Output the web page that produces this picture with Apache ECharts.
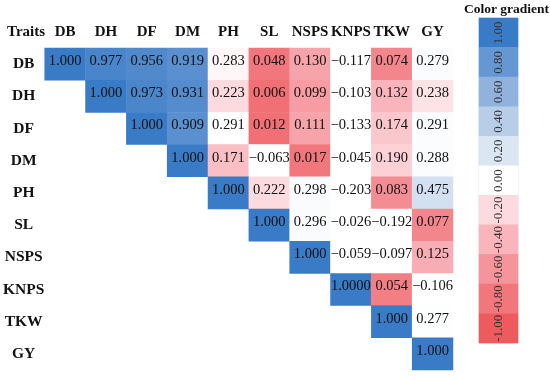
<!DOCTYPE html>
<html><head><meta charset="utf-8">
<script src="https://cdn.jsdelivr.net/npm/echarts@6/dist/echarts.min.js"></script>
<style>html,body{margin:0;padding:0;background:#fff}#c{width:550px;height:377px}</style>
</head><body><div id="c"></div>
<script>
var traits = ['DB','DH','DF','DM','PH','SL','NSPS','KNPS','TKW','GY'];
// displayed coefficients (upper triangle, row by row, starting at diagonal)
var rowDB   = ['1.000','0.977','0.956','0.919','0.283','0.048','0.130','\u22120.117','0.074','0.279'];
var rowDH   = ['1.000','0.973','0.931','0.223','0.006','0.099','\u22120.103','0.132','0.238'];
var rowDF   = ['1.000','0.909','0.291','0.012','0.111','\u22120.133','0.174','0.291'];
var rowDM   = ['1.000','0.171','\u22120.063','0.017','\u22120.045','0.190','0.288'];
var rowPH   = ['1.000','0.222','0.298','\u22120.203','0.083','0.475'];
var rowSL   = ['1.000','0.296','\u22120.026','\u22120.192','0.077'];
var rowNSPS = ['1.000','\u22120.059','\u22120.097','0.125'];
var rowKNPS = ['1.0000','0.054','\u22120.106'];
var rowTKW  = ['1.000','0.277'];
var rowGY   = ['1.000'];
// cell shading, on the colour-gradient scale (-1..1)
var shadeDB   = [1.00,0.93,0.90,0.85,-0.05,-0.80,-0.50,0.00,-0.70,0.02];
var shadeDH   = [1.00,0.92,0.88,-0.20,-0.85,-0.55,0.00,-0.40,-0.15];
var shadeDF   = [1.00,0.85,0.00,-0.85,-0.50,0.00,-0.30,0.02];
var shadeDM   = [1.00,-0.35,0.00,-0.80,0.00,-0.25,0.02];
var shadePH   = [1.00,-0.20,0.03,0.00,-0.65,0.25];
var shadeSL   = [1.00,0.03,0.00,0.00,-0.70];
var shadeNSPS = [1.00,0.00,0.00,-0.45];
var shadeKNPS = [1.00,-0.75,0.00];
var shadeTKW  = [1.00,0.01];
var shadeGY   = [1.00];
var gradientTicks = ['1.00','0.80','0.60','0.40','0.20','0.00','-0.20','-0.40','-0.60','-0.80','-1.00'];

var rows = [rowDB,rowDH,rowDF,rowDM,rowPH,rowSL,rowNSPS,rowKNPS,rowTKW,rowGY];
var shades = [shadeDB,shadeDH,shadeDF,shadeDM,shadePH,shadeSL,shadeNSPS,shadeKNPS,shadeTKW,shadeGY];
var data = [];
rows.forEach(function(r,i){
  r.forEach(function(v,k){
    var j = i + k;
    data.push([j, i, shades[i][k], v]);
  });
});
var legendData = gradientTicks.map(function(t,i){ return [0, i, parseFloat(t), t]; });

var serif = 'Liberation Serif';
var chart = echarts.init(document.getElementById('c'));
chart.setOption({
  backgroundColor:'#fff',
  animation:false,
  title:[{text:'Traits', left:2, top:20, textStyle:{fontFamily:serif,fontWeight:'bold',fontSize:15,color:'#111'}},
         {text:'Color gradient', left:464, top:3, padding:0, textStyle:{fontFamily:serif,fontWeight:'bold',fontSize:13.5,color:'#111'}}],
  grid:[{left:43, top:48, width:410, height:322},
        {left:479, top:18, width:39, height:325, show:true, borderColor:'#c6ecf4', borderWidth:1}],
  xAxis:[{type:'category', data:traits, position:'top', gridIndex:0,
          axisLine:{show:false}, axisTick:{show:false}, splitLine:{show:false},
          axisLabel:{margin:8, fontFamily:serif, fontWeight:'bold', fontSize:15, color:'#111', interval:0}},
         {type:'category', data:['g'], gridIndex:1, show:false}],
  yAxis:[{type:'category', data:traits, inverse:true, gridIndex:0,
          axisLine:{show:false}, axisTick:{show:false}, splitLine:{show:false},
          axisLabel:{margin:21, align:'center', padding:[0,0,7,0], fontFamily:serif, fontWeight:'bold', fontSize:15.5, color:'#111', interval:0}},
         {type:'category', data:gradientTicks, inverse:true, gridIndex:1, show:false}],
  visualMap:{type:'continuous', show:false, min:-1, max:1, dimension:2, seriesIndex:[0,1],
             inRange:{color:['#ee5a5e','#f7a3aa','#ffffff','#a6c0e2','#3a7bc7']}},
  series:[{type:'heatmap', xAxisIndex:0, yAxisIndex:0, data:data,
           label:{show:true, offset:[0,-3], formatter:function(p){return p.data[3];}, fontFamily:serif, fontSize:14.5, color:'#111'}},
          {type:'heatmap', xAxisIndex:1, yAxisIndex:1, data:legendData,
           label:{show:true, rotate:90, formatter:function(p){return p.data[3];}, fontFamily:serif, fontSize:13, color:'#333'}}]
});
</script></body></html>
